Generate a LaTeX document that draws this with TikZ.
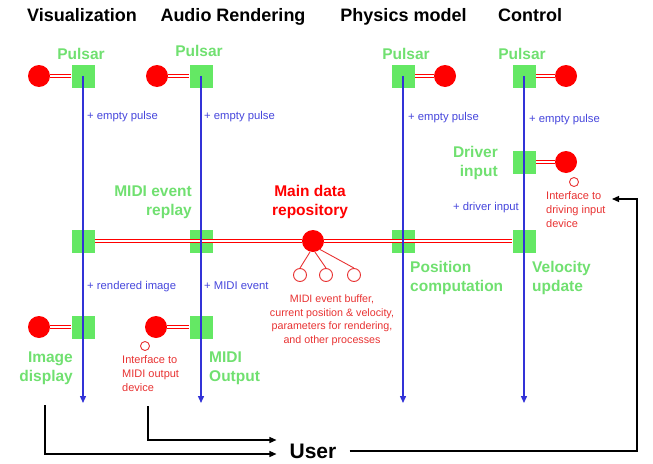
\documentclass[tikz,border=0pt]{standalone}
\usepackage{fontspec}
\setmainfont{Liberation Sans}
\usetikzlibrary{arrows.meta}
\definecolor{boxgreen}{RGB}{100,232,100}
\definecolor{labgreen}{RGB}{112,224,112}
\definecolor{flowblue}{RGB}{50,50,215}
\definecolor{noteblue}{RGB}{70,70,220}
\definecolor{notered}{RGB}{232,50,50}
\begin{document}
\begin{tikzpicture}[x=1pt,y=-1pt,
  hub/.style={rectangle, fill=boxgreen, minimum size=23pt, inner sep=0pt},
  port/.style={circle, fill=red, minimum size=22pt, inner sep=0pt},
  tap/.style={circle, draw=notered, fill=white, line width=0.9pt, minimum size=9pt, inner sep=0pt},
  link/.style={draw=red, double=white, line width=1.4pt, double distance=2pt},
  flow/.style={draw=flowblue, line width=1.4pt, -{Triangle[length=7pt,width=6pt]}},
  ret/.style={draw=black, line width=1.3pt, -{Triangle[length=7pt,width=6pt]}},
  head/.style={font=\fontsize{18}{20}\selectfont\bfseries, anchor=base, inner sep=0pt},
  glab/.style={text=labgreen, font=\fontsize{15.5}{19}\selectfont\bfseries, inner sep=0pt},
  note/.style={text=noteblue, font=\fontsize{11.3}{14}\selectfont, inner sep=0pt, anchor=base west},
  rnote/.style={text=notered, font=\fontsize{11}{14}\selectfont, inner sep=0pt},
]
\useasboundingbox (0,0) rectangle (653,463);

% column headings
\node[head] (hvis) at (82,21) {Visualization};
\node[head] (haud) at (233,21) {Audio Rendering};
\node[head] (hphy) at (403.5,21) {Physics model};
\node[head] (hctl) at (530,21) {Control};

% green component squares
\node[hub] (p1) at (83,76) {};
\node[hub] (p2) at (201,76) {};
\node[hub] (p3) at (403,76) {};
\node[hub] (p4) at (524,76) {};
\node[hub] (drv) at (524,162) {};
\node[hub] (vbus) at (83,241) {};
\node[hub] (abus) at (201,241) {};
\node[hub] (pbus) at (403,241) {};
\node[hub] (cbus) at (524,241) {};
\node[hub] (isq) at (83,327) {};
\node[hub] (msq) at (201,327) {};

% red ports
\node[port] (pc1) at (39,76) {};
\node[port] (pc2) at (157,76) {};
\node[port] (pc3) at (445,76) {};
\node[port] (pc4) at (566,76) {};
\node[port] (dport) at (566,162) {};
\node[port] (repo) at (313,241) {};
\node[port] (ic) at (39,327) {};
\node[port] (mc) at (156,327) {};

% double red links
\draw[link] (pc1) -- (p1);
\draw[link] (pc2) -- (p2);
\draw[link] (pc3) -- (p3);
\draw[link] (pc4) -- (p4);
\draw[link] (dport) -- (drv);
\draw[link] (ic) -- (isq);
\draw[link] (mc) -- (msq);
\draw[link] (vbus.east) -- (repo.west);
\draw[link] (repo.east) -- (cbus.west);

% small interface circles
\node[tap] (dtap) at (574,182) {};
\node[tap] (mtap) at (145,346) {};
\node[tap, minimum size=13pt] (t1) at (300,275) {};
\node[tap, minimum size=13pt] (t2) at (326,275) {};
\node[tap, minimum size=13pt] (t3) at (354,275) {};
\draw[notered, line width=0.9pt] (repo.-105) -- (t1.north);
\draw[notered, line width=0.9pt] (repo.-80) -- (t2.north);
\draw[notered, line width=0.9pt] (repo.-50) -- (t3.north);

% blue pulse flows
\coordinate (e1) at (83,403);
\coordinate (e2) at (201,403);
\coordinate (e3) at (403,403);
\coordinate (e4) at (524,403);
\draw[flow] (p1.center) -- (e1);
\draw[flow] (p2.center) -- (e2);
\draw[flow] (p3.center) -- (e3);
\draw[flow] (p4.center) -- (e4);

% green labels
\node[glab, anchor=base] (l1) at (81,59) {Pulsar};
\node[glab, anchor=base] (l2) at (199,56) {Pulsar};
\node[glab, anchor=base] (l3) at (406,59) {Pulsar};
\node[glab, anchor=base] (l4) at (522,59) {Pulsar};
\node[glab, anchor=north east, align=right] (lreplay) at (192,185.5) {MIDI event\\replay};
\node[glab, anchor=north east, align=right] (ldrv) at (498,146.5) {Driver\\input};
\node[glab, anchor=north west, align=left] (lpos) at (410,261.5) {Position\\computation};
\node[glab, anchor=north west, align=left] (lvel) at (532,261.5) {Velocity\\update};
\node[glab, anchor=north east, align=right] (limg) at (73,351.5) {Image\\display};
\node[glab, anchor=north west, align=left] (lmidi) at (209,351.5) {MIDI\\Output};
\node[glab, text=red, anchor=north, align=center] (lrepo) at (310,185.5) {Main data\\repository};

% blue flow notes
\node[note] (n1) at (87,119) {+ empty pulse};
\node[note] (n2) at (204,119) {+ empty pulse};
\node[note] (n3) at (408,120) {+ empty pulse};
\node[note] (n4) at (529,122) {+ empty pulse};
\node[note] (n5) at (453,210) {+ driver input};
\node[note] (n6) at (87,289) {+ rendered image};
\node[note] (n7) at (204,289) {+ MIDI event};

% red notes
\node[rnote, anchor=north west, align=left] (ndrv) at (546,191) {Interface to\\driving input\\device};
\node[rnote, anchor=north west, align=left] (nmidi) at (122,355) {Interface to\\MIDI output\\device};
\node[rnote, anchor=north, align=center, font=\fontsize{10.7}{13.5}\selectfont] (nrepo) at (332,295)
  {MIDI event buffer,\\current position \& velocity,\\parameters for rendering,\\and other processes};

% user and feedback loop
\node[font=\fontsize{21}{24}\selectfont\bfseries, inner xsep=13pt, inner ysep=0pt] (user) at (313,451) {User};
\coordinate (imgout) at (45,405);
\coordinate (midout) at (148,406);
\coordinate (turn) at (637,199);
\coordinate (drvin) at (612,199);
\draw[ret] (imgout) |- ([yshift=-3pt]user.west);
\draw[ret] (midout) |- ([yshift=11pt]user.west);
\draw[ret] (user.east) -| (turn) -- (drvin);
\end{tikzpicture}
\end{document}
